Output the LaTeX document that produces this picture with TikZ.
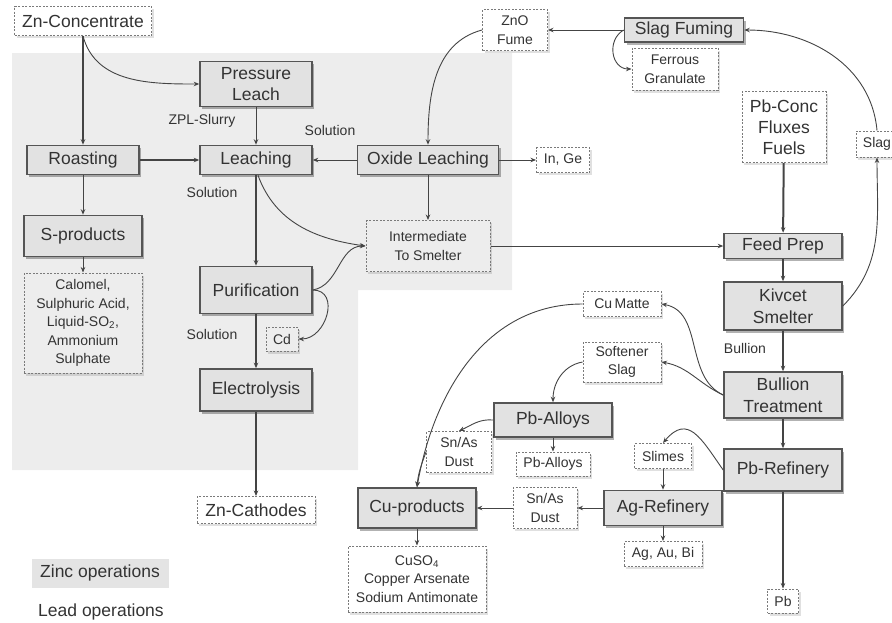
\documentclass[tikz,border=0pt]{standalone}
\usepackage{fontspec}
\setmainfont{Liberation Sans}
\usetikzlibrary{arrows.meta, shadows}
\definecolor{zincbg}{HTML}{EDEDED}
\definecolor{legbg}{HTML}{E4E4E4}
\definecolor{boxfill}{HTML}{E2E2E2}
\definecolor{boxline}{HTML}{555555}
\definecolor{dashline}{HTML}{7A7A7A}
\definecolor{txt}{HTML}{333333}
\definecolor{linec}{HTML}{444444}

\begin{document}
\begin{tikzpicture}[x=1pt,y=-1pt,
    >={Stealth[length=5.5pt,width=4.5pt]},
    unit/.style={draw=boxline, line width=1.6pt, fill=boxfill, text=txt, align=center, inner sep=0pt,
        font=\fontsize{17.5}{21.5}\selectfont,
        drop shadow={shadow xshift=2pt, shadow yshift=-2.5pt, fill=black, opacity=.3}},
    stream/.style={draw=dashline, line width=1pt, dash pattern=on 2pt off 1.5pt, fill=white, text=txt,
        align=center, inner sep=0pt, font=\fontsize{14}{18.5}\selectfont,
        drop shadow={shadow xshift=2pt, shadow yshift=-2.5pt, fill=black, opacity=.12}},
    bigtxt/.style={font=\fontsize{17.5}{21}\selectfont},
    note/.style={text=txt, font=\fontsize{14}{17}\selectfont},
    flow/.style={->, draw=linec, line width=0.9pt},
    mainflow/.style={->, draw=linec, line width=2pt}]
    \useasboundingbox (0,0) rectangle (892,622);
    \fill[zincbg] (12,53) -- (512,53) -- (512,290) -- (358,290) -- (358,470) -- (12,470) -- cycle;

    % zinc side
    \node[stream, bigtxt, minimum width=137, minimum height=29] (zncon) at (83,21) {Zn-Concentrate};
    \node[unit, minimum width=112, minimum height=45] (press) at (256,84) {Pressure\\Leach};
    \node[unit, minimum width=112, minimum height=29] (roast) at (83,160) {Roasting};
    \node[unit, minimum width=112, minimum height=29] (leach) at (256,160) {Leaching};
    \node[unit, minimum width=141, minimum height=29] (oxleach) at (428,160) {Oxide Leaching};
    \node[unit, minimum width=118, minimum height=41] (sprod) at (83,236) {S-products};
    \node[stream, fill=zincbg, minimum width=118, minimum height=100] (calomel) at (83,323)
        {Calomel,\\Sulphuric Acid,\\Liquid-SO\textsubscript{2},\\Ammonium\\Sulphate};
    \node[unit, minimum width=112, minimum height=47] (purif) at (256,290) {Purification};
    \node[stream, fill=zincbg, minimum width=32, minimum height=24] (cd) at (282,339) {Cd};
    \node[unit, minimum width=112, minimum height=42] (electro) at (256,390) {Electrolysis};
    \node[stream, bigtxt, minimum width=118, minimum height=27] (zncath) at (256,510) {Zn-Cathodes};
    \node[stream, fill=zincbg, minimum width=124, minimum height=51] (inter) at (428,246) {Intermediate\\To Smelter};
    \node[stream, minimum width=53, minimum height=25] (inge) at (563,160) {In, Ge};
    \node[note] (zplslurry) at (202,121) {ZPL-Slurry};
    \node[note] (solox) at (330,130) {Solution};
    \node[note] (solleach) at (212,192) {Solution};
    \node[note] (solpurif) at (212,334) {Solution};

    % lead side
    \node[stream, minimum width=65, minimum height=41] (znofume) at (515,30) {ZnO\\Fume};
    \node[unit, minimum width=119, minimum height=24] (slagfum) at (684,30) {Slag Fuming};
    \node[stream, minimum width=86, minimum height=42] (ferrous) at (675,69) {Ferrous\\Granulate};
    \node[stream, bigtxt, minimum width=84, minimum height=71] (pbconc) at (784,127) {Pb-Conc\\Fluxes\\Fuels};
    \node[stream, minimum width=42, minimum height=26] (slag) at (877,144) {Slag};
    \node[unit, minimum width=118, minimum height=25] (feed) at (783,246) {Feed Prep};
    \node[unit, minimum width=118, minimum height=48] (kivcet) at (783,306) {Kivcet\\Smelter};
    \node[note] (bullionlbl) at (745,348) {Bullion};
    \node[stream, minimum width=78, minimum height=25] (cumatte) at (622,304) {Cu\,Matte};
    \node[stream, minimum width=78, minimum height=40] (softslag) at (622,362) {Softener\\Slag};
    \node[unit, minimum width=118, minimum height=46] (bullion) at (783,395) {Bullion\\Treatment};
    \node[unit, minimum width=118, minimum height=34] (pballoy) at (553,420) {Pb-Alloys};
    \node[stream, minimum width=65, minimum height=41] (snas1) at (459,452) {Sn/As\\Dust};
    \node[stream, minimum width=74, minimum height=24] (pballoyout) at (553,464) {Pb-Alloys};
    \node[stream, minimum width=57, minimum height=25] (slimes) at (663,456) {Slimes};
    \node[unit, minimum width=118, minimum height=42] (pbref) at (783,470) {Pb-Refinery};
    \node[unit, minimum width=118, minimum height=35] (agref) at (663,508) {Ag-Refinery};
    \node[stream, minimum width=64, minimum height=41] (snas2) at (545,508) {Sn/As\\Dust};
    \node[unit, minimum width=118, minimum height=40] (cuprod) at (417,508) {Cu-products};
    \node[stream, minimum width=138, minimum height=66] (cusalts) at (417,579)
        {CuSO\textsubscript{4}\\Copper Arsenate\\Sodium Antimonate};
    \node[stream, minimum width=78, minimum height=25] (agaubi) at (663,554) {Ag, Au, Bi};
    \node[stream, minimum width=31, minimum height=24] (pb) at (783,601) {Pb};

    % legend
    \node[fill=legbg, text=txt, bigtxt, inner sep=0pt, minimum width=137, minimum height=29] (zinclegend) at (100,573) {Zinc operations};
    \node[text=txt, bigtxt, inner sep=0pt] (leadlegend) at (101,612) {Lead operations};

    % zinc flows
    \draw[mainflow] (zncon) -- (roast);
    \draw[flow] (zncon.south) to[out=-75,in=180] (press.west);
    \draw[flow] (press) -- (leach);
    \draw[mainflow] (roast) -- (leach);
    \draw[flow] (oxleach) -- (leach);
    \draw[flow] (roast) -- (sprod);
    \draw[flow] (sprod) -- (calomel);
    \draw[mainflow] (leach) -- (purif);
    \draw[flow] ([xshift=2pt]leach.south) to[out=-70,in=172] (inter.west);
    \draw[flow] (purif.east) to[out=10,in=180] (inter.west);
    \draw[flow] (purif.east) to[out=0,in=0,looseness=1.4] (cd.east);
    \draw[mainflow] (purif) -- (electro);
    \draw[mainflow] (electro) -- (zncath);
    \draw[flow] (oxleach) -- (inge);
    \draw[flow] (oxleach) -- (inter);

    % lead flows
    \draw[flow] (znofume.west) to[out=195,in=90] (oxleach.north);
    \draw[flow] (slagfum) -- (znofume);
    \draw[flow] (slagfum.west) to[out=210,in=180,looseness=1.3] (ferrous.west);
    \draw[flow] (slag.north) to[out=95,in=0] (slagfum.east);
    \draw[flow] (kivcet.east) to[out=45,in=-90] (slag.south);
    \draw[mainflow] (pbconc) -- (feed);
    \draw[flow] (inter) -- (feed);
    \draw[mainflow] (feed) -- (kivcet);
    \draw[mainflow] (kivcet) -- (bullion);
    \draw[flow] (bullion.west) to[out=155,in=-10] (cumatte.east);
    \draw[flow] (bullion.west) to[out=155,in=-10] (softslag.east);
    \draw[flow] (softslag.west) to[out=190,in=90] (pballoy.north);
    \draw[flow] (pballoy.west) to[out=175,in=25] (snas1.north);
    \draw[flow] (pballoy) -- (pballoyout);
    \draw[flow] (cumatte.west) to[out=180,in=80] (cuprod.north);
    \draw[flow] (snas1.west) to[out=-110,in=85] (cuprod.north);
    \draw[mainflow] (bullion) -- (pbref);
    \draw[flow] (pbref.west) to[out=125,in=50,looseness=1.5] (slimes.north);
    \draw[flow] (slimes) -- (agref);
    \draw[flow] (agref) -- (snas2);
    \draw[flow] (snas2) -- (cuprod);
    \draw[flow] (cuprod) -- (cusalts);
    \draw[flow] (agref) -- (agaubi);
    \draw[mainflow] (pbref) -- (pb);
\end{tikzpicture}
\end{document}
